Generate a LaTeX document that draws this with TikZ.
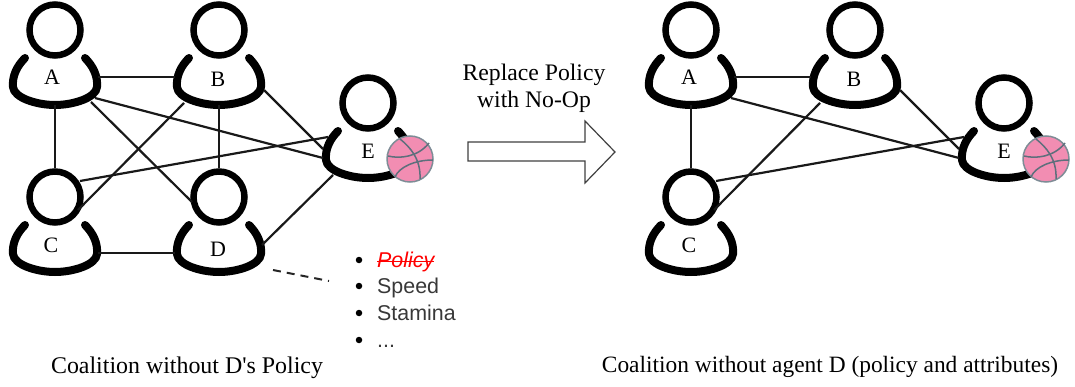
\documentclass[tikz,border=0pt]{standalone}
\usepackage{fontspec}
\setmainfont{Liberation Serif}
\newfontfamily\listfont{Liberation Sans}
\tikzset{
  x=1pt,y=-1pt,
  headnode/.style={circle,draw=black,line width=6.5pt,minimum size=51pt,inner sep=0pt},
  bodyline/.style={line width=8pt,line cap=round,black},
  link/.style={line width=2.2pt,draw=black!90},
  letter/.style={inner sep=0pt,font=\fontsize{22}{26}\selectfont},
  caption/.style={inner sep=0pt,align=center,font=\fontsize{23.9}{26}\selectfont},
  listtext/.style={inner sep=0pt,anchor=base west,text=black!78,font=\listfont\fontsize{21.4}{25}\selectfont},
  bullet/.style={circle,fill=black,inner sep=0pt,minimum size=6.5pt},
  ballseam/.style={line width=1.5pt,draw=ballline},
}
\definecolor{ballpink}{HTML}{F28DB2}
\definecolor{ballline}{HTML}{5E6F7C}
\newcommand{\person}[5]{%
  \node[headnode] (#1) at (#2,#3) {};
  \draw[bodyline,shift={(#2,#3)}] (-30,28) .. controls (-38,36) and (-43,46) .. (-42,57)
     .. controls (-41,68) and (-18,75) .. (0,75)
     .. controls (18,75) and (41,68) .. (42,57)
     .. controls (43,46) and (38,36) .. (30,28);
  \node[letter] (#1L) at (#4) {#5};
}
\newcommand{\ball}[3]{%
  \begin{scope}[shift={(#2,#3)}]
    \node[circle,fill=ballpink,draw=ballline!80,line width=1.5pt,minimum size=46pt,inner sep=0pt] (#1) at (0,0) {};
    \draw[ballseam] (-22,-3) .. controls (-10,0) and (8,-2) .. (19,-16);
    \draw[ballseam] (-15,18) .. controls (-11,8) and (5,1) .. (23,1);
    \draw[ballseam] (-10,-20) .. controls (0,-12) and (11,0) .. (10,20);
  \end{scope}
}
\begin{document}
\begin{tikzpicture}
\useasboundingbox (0,0) rectangle (1075,387);
% left network
\person{A}{55}{30}{52,77}{A}
\person{B}{219}{30}{218,79}{B}
\person{C}{55}{197}{51,245}{C}
\person{D}{219}{197}{218,249}{D}
\person{E}{368}{103}{368,151}{E}
\draw[link] ([shift={(43,47)}]A.center) -- ([shift={(-44,47)}]B.center);
\draw[link] ([shift={(0,75)}]A.center) -- (C.north);
\draw[link] ([shift={(36,72)}]A.center) -- ([shift={(-27,5)}]D.center);
\draw[link] ([shift={(40,68)}]A.center) -- ([shift={(-45,55)}]E.center);
\draw[link] ([shift={(-35,73)}]B.center) -- ([shift={(23,13)}]C.center);
\draw[link] ([shift={(0,75)}]B.center) -- (D.north);
\draw[link] ([shift={(45,60)}]B.center) -- ([shift={(-45,46)}]E.center);
\draw[link] ([shift={(43,56)}]C.center) -- ([shift={(-44,56)}]D.center);
\draw[link] ([shift={(25,-16)}]C.center) -- ([shift={(-40,34)}]E.center);
\draw[link] ([shift={(43,48)}]D.center) -- ([shift={(-35,72)}]E.center);
\ball{Eball}{410}{159}
% attribute list
\coordinate (listend) at (329,281);
\draw[line width=2pt,dash pattern=on 8pt off 6pt,black!85] ([shift={(54,73)}]D.center) -- (listend);
\node[bullet] (b1) at (359,260) {};
\node[bullet] (b2) at (359,286) {};
\node[bullet] (b3) at (359,313) {};
\node[bullet] (b4) at (359,340) {};
\node[listtext,text=red] (policy) at (377,267) {\itshape Policy};
\node[listtext] (speed) at (377,293) {Speed};
\node[listtext] (stamina) at (377,320) {Stamina};
\node[listtext] (dots) at (377,347) {...};
\draw[red,line width=1.3pt] (policy.west) -- (policy.east);
% middle
\node[caption,font=\fontsize{23.7}{26}\selectfont] (replace) at (534,88) {Replace Policy\\[1pt]with No-Op};
\draw[line width=1.2pt,draw=black!75,fill=white] (468,142) -- (585,142) -- (585,121) -- (615,152) -- (585,183) -- (585,161) -- (468,161) -- cycle;
% right network
\person{rA}{691}{30}{689,77}{A}
\person{rB}{855}{30}{854,79}{B}
\person{rC}{691}{197}{689,245}{C}
\person{rE}{1004}{103}{1004,151}{E}
\draw[link] ([shift={(43,47)}]rA.center) -- ([shift={(-44,47)}]rB.center);
\draw[link] ([shift={(0,75)}]rA.center) -- (rC.north);
\draw[link] ([shift={(40,68)}]rA.center) -- ([shift={(-45,55)}]rE.center);
\draw[link] ([shift={(-35,73)}]rB.center) -- ([shift={(23,13)}]rC.center);
\draw[link] ([shift={(45,60)}]rB.center) -- ([shift={(-45,46)}]rE.center);
\draw[link] ([shift={(25,-16)}]rC.center) -- ([shift={(-40,34)}]rE.center);
\ball{rEball}{1046}{159}
% captions
\node[caption] (capL) at (187,368) {Coalition without D\textquotesingle s Policy};
\node[caption,font=\fontsize{23.4}{26}\selectfont] (capR) at (830,367) {Coalition without agent D (policy and attributes)};
\end{tikzpicture}
\end{document}
